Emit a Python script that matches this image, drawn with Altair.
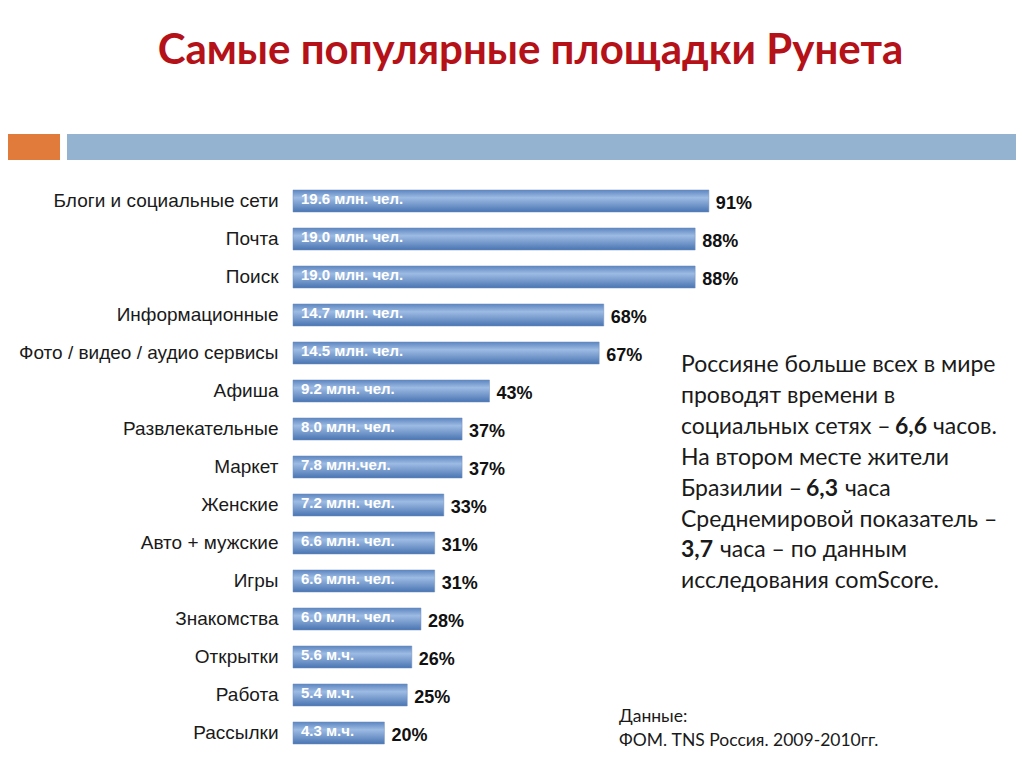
import altair as alt
import pandas as pd

categories = [
    "Блоги и социальные сети", "Почта", "Поиск", "Информационные",
    "Фото / видео / аудио сервисы", "Афиша", "Развлекательные", "Маркет",
    "Женские", "Авто + мужские", "Игры", "Знакомства", "Открытки",
    "Работа", "Рассылки",
]
percent = [91, 88, 88, 68, 67, 43, 37, 37, 33, 31, 31, 28, 26, 25, 20]
audience = [
    "19.6 млн. чел.", "19.0 млн. чел.", "19.0 млн. чел.", "14.7 млн. чел.",
    "14.5 млн. чел.", "9.2 млн. чел.", "8.0 млн. чел.", "7.8 млн.чел.",
    "7.2 млн. чел.", "6.6 млн. чел.", "6.6 млн. чел.", "6.0 млн. чел.",
    "5.6 м.ч.", "5.4 м.ч.", "4.3 м.ч.",
]

title_text = "Самые популярные площадки Рунета"
note_lines = [
    [("Россияне больше всех в мире", False, 0)],
    [("проводят времени в", False, 0)],
    [("социальных сетях –", False, 0), ("6,6", True, 214), ("часов.", False, 252)],
    [("На втором месте жители", False, 0)],
    [("Бразилии –", False, 0), ("6,3", True, 125), ("часа", False, 164)],
    [("Среднемировой показатель –", False, 0)],
    [("3,7", True, 0), ("часа – по данным", False, 39)],
    [("исследования comScore.", False, 0)],
]
source_lines = ["Данные:", "ФОМ. TNS Россия. 2009-2010гг."]

df = pd.DataFrame({"cat": categories, "pct": percent, "aud": audience,
                   "pct_label": [f"{p}%" for p in percent]})

W, H = 457, 570
PAD_L, PAD_T = 285, 174

y_enc = alt.Y(
    "cat:N", sort=categories, title=None,
    scale=alt.Scale(paddingInner=0.42, paddingOuter=0.21),
    axis=alt.Axis(domain=False, ticks=False, labelPadding=15, labelFontSize=19,
                  labelFont="Liberation Sans", labelColor="#1a1a1a", labelLimit=400),
)
x_enc = alt.X("pct:Q", scale=alt.Scale(domain=[0, 100]), axis=None)

grad = alt.Gradient(
    gradient="linear", x1=0, x2=0, y1=0, y2=1,
    stops=[
        alt.GradientStop(offset=0, color="#5c85c0"),
        alt.GradientStop(offset=0.35, color="#9dbbe3"),
        alt.GradientStop(offset=1, color="#4a75b2"),
    ],
)

base = alt.Chart(df)
bars = base.mark_bar(color=grad, stroke="#6f8fbf", strokeWidth=0.5).encode(x=x_enc, y=y_enc)
pct_text = base.mark_text(align="left", baseline="middle", dx=7, dy=3,
                          font="Liberation Sans", fontSize=18, fontWeight="bold",
                          color="#111111").encode(x=x_enc, y=y_enc, text="pct_label:N")
aud_text = base.mark_text(align="left", baseline="middle", dy=-2,
                          font="Liberation Sans", fontSize=15, fontWeight="bold",
                          color="white").encode(x=alt.value(8), y=y_enc, text="aud:N")

one = pd.DataFrame({"k": [0]})
deco = []
deco.append(alt.Chart(one).mark_rect(color="#e07b3c").encode(
    x=alt.value(-285), x2=alt.value(-233), y=alt.value(-48), y2=alt.value(-22)))
deco.append(alt.Chart(one).mark_rect(color="#94b3d0").encode(
    x=alt.value(-226), x2=alt.value(723), y=alt.value(-48), y2=alt.value(-22)))

for i, line in enumerate(note_lines):
    yy = 183 + i * 30.9
    for txt, bold, off in line:
        deco.append(alt.Chart(one).mark_text(
            align="left", baseline="middle", font="Lato", fontSize=23,
            fontWeight="bold" if bold else "normal", color="#1a1a1a", text=txt,
        ).encode(x=alt.value(388 + off), y=alt.value(yy)))

for i, txt in enumerate(source_lines):
    deco.append(alt.Chart(one).mark_text(
        align="left", baseline="middle", font="Lato", fontSize=17.5,
        color="#1a1a1a", text=txt,
    ).encode(x=alt.value(326), y=alt.value(535 + i * 24)))

chart = alt.layer(bars, aud_text, pct_text, *deco).properties(
    width=W, height=H,
    background="white",
    autosize=alt.AutoSizeParams(type="none"),
    padding={"left": PAD_L, "top": PAD_T, "right": 1008 - PAD_L - W, "bottom": 0},
    title=alt.TitleParams(title_text, font="Lato", fontSize=42, fontWeight="bold",
                          color="#b41118", anchor="middle", dx=9, offset=61),
).configure_view(stroke=None)

chart.save("out.html", embed_options={"renderer": "svg", "actions": False})
